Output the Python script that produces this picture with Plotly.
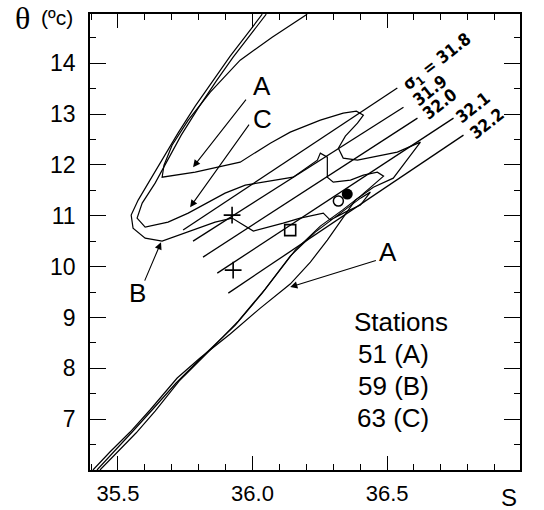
import plotly.graph_objects as go

# ---- Station 51 (A): salinity S and potential temperature theta ----
A_S = [35.407, 35.470, 35.545, 35.619, 35.720, 35.805, 35.917, 36.029, 36.140, 36.215,
       36.278, 36.345, 36.382, 36.449, 36.523, 36.568, 36.624, 36.538, 36.464, 36.390,
       36.337, 36.319, 36.345, 36.390, 36.412, 36.386, 36.337, 36.252, 36.140, 36.066,
       35.954, 35.787, 35.664, 35.671, 35.701, 35.761, 35.843, 35.954, 36.073, 36.203]
A_T = [6.000, 6.354, 6.747, 7.180, 7.809, 8.202, 8.674, 9.185, 9.657, 10.090,
       10.522, 11.014, 11.309, 11.564, 11.741, 12.056, 12.449, 12.253, 12.174, 12.095,
       12.135, 12.331, 12.567, 12.823, 12.980, 13.059, 13.019, 12.882, 12.646, 12.429,
       12.056, 11.859, 11.760, 11.996, 12.390, 12.882, 13.432, 14.061, 14.514, 14.966]

# ---- Station 59 (B) ----
B_S = [35.422, 35.485, 35.556, 35.630, 35.716, 35.824, 35.936, 36.036, 36.140, 36.233,
       36.326, 36.401, 36.438, 36.401, 36.345, 36.289, 36.263, 36.177, 36.114, 36.040,
       36.003, 35.954, 35.924, 35.861, 35.738, 35.664, 35.601, 35.556, 35.549, 35.575,
       35.619, 35.668, 35.723, 35.787, 35.854, 35.917, 35.977, 36.036]
B_T = [6.000, 6.354, 6.767, 7.200, 7.711, 8.281, 8.851, 9.480, 10.208, 10.680,
       11.053, 11.348, 11.466, 11.210, 11.073, 10.916, 11.053, 10.955, 10.857, 10.758,
       10.699, 10.857, 10.955, 10.876, 10.640, 10.502, 10.561, 10.758, 11.014, 11.309,
       11.702, 12.135, 12.626, 13.157, 13.668, 14.140, 14.553, 14.966]

# ---- Station 63 (C) ----
C_S = [35.433, 35.496, 35.567, 35.638, 35.727, 35.835, 35.947, 36.047, 36.159, 36.252,
       36.334, 36.401, 36.453, 36.487, 36.464, 36.412, 36.364, 36.300, 36.278, 36.278,
       36.252, 36.241, 36.151, 36.066, 35.973, 35.898, 35.761, 35.686, 35.649, 35.601,
       35.571, 35.590, 35.638, 35.683, 35.735, 35.798, 35.865, 35.928, 35.988, 36.051]
C_T = [6.000, 6.334, 6.727, 7.160, 7.750, 8.320, 8.930, 9.559, 10.326, 10.798,
       11.112, 11.387, 11.623, 11.780, 11.859, 11.800, 11.702, 11.662, 11.761, 12.154,
       12.233, 12.095, 11.761, 11.682, 11.604, 11.446, 11.053, 10.876, 10.837, 10.778,
       10.955, 11.250, 11.643, 12.095, 12.587, 13.118, 13.649, 14.120, 14.533, 14.966]

# ---- Isopycnals sigma_1 ----
sigma_labels = ["σ<sub>1</sub> = 31.8", "31.9", "32.0", "32.1", "32.2"]
iso_S0 = [35.742, 35.779, 35.816, 35.869, 35.910]
iso_T0 = [10.720, 10.503, 10.188, 9.873, 9.480]
iso_S1 = [36.538, 36.561, 36.613, 36.747, 36.784]
iso_T1 = [13.513, 13.137, 12.921, 12.921, 12.587]

# ---- Station position markers ----
cross_S = [35.924, 35.928]
cross_T = [11.014, 9.932]
square_S = [36.140]
square_T = [10.719]
ocirc_S = [36.319]
ocirc_T = [11.290]
fcirc_S = [36.352]
fcirc_T = [11.427]

x_ticks = [35.5, 36.0, 36.5]
x_ticklabels = ["35.5", "36.0", "36.5"]
y_ticks = [7, 8, 9, 10, 11, 12, 13, 14]
y_ticklabels = ["7", "8", "9", "10", "11", "12", "13", "14"]

SANS = "Liberation Sans, Arial, Helvetica, sans-serif"
NARROW = "Liberation Sans Narrow, DejaVu Sans Condensed, Arial Narrow, Liberation Sans, sans-serif"

fig = go.Figure()
for S, T in [(A_S, A_T), (B_S, B_T), (C_S, C_T)]:
    fig.add_trace(go.Scatter(x=S, y=T, mode="lines", line=dict(color="black", width=1.2),
                             hoverinfo="skip", showlegend=False))
for i in range(len(sigma_labels)):
    fig.add_trace(go.Scatter(x=[iso_S0[i], iso_S1[i]], y=[iso_T0[i], iso_T1[i]], mode="lines",
                             line=dict(color="black", width=1.3), hoverinfo="skip", showlegend=False))

fig.add_trace(go.Scatter(x=cross_S, y=cross_T, mode="markers", showlegend=False,
                         marker=dict(symbol="cross-thin", size=12, line=dict(width=1.6, color="black"))))
fig.add_trace(go.Scatter(x=square_S, y=square_T, mode="markers", showlegend=False,
                         marker=dict(symbol="square-open", size=11, color="black", line=dict(width=1.6))))
fig.add_trace(go.Scatter(x=ocirc_S, y=ocirc_T, mode="markers", showlegend=False,
                         marker=dict(symbol="circle-open", size=10, color="black", line=dict(width=1.5))))
fig.add_trace(go.Scatter(x=fcirc_S, y=fcirc_T, mode="markers", showlegend=False,
                         marker=dict(symbol="circle", size=11, color="black")))

ann = []
# isopycnal labels
lab_pos = [(36.687, 14.022), (36.661, 13.471), (36.695, 13.196), (36.821, 13.137), (36.873, 12.823)]
for txt, (sx, ty) in zip(sigma_labels, lab_pos):
    ann.append(dict(x=sx, y=ty, xref="x", yref="y", text="<b>" + txt + "</b>", showarrow=False,
                    textangle=-38, xanchor="center", yanchor="middle",
                    font=dict(family=NARROW, size=17, color="black")))

# arrows (tip, tail) and letter labels
arrows = [((35.779, 11.957), (35.980, 13.314)),
          ((35.768, 11.171), (35.991, 12.823)),
          ((35.660, 10.480), (35.597, 9.696)),
          ((36.140, 9.598), (36.464, 10.130))]
for (tx, ty), (axx, ayy) in arrows:
    ann.append(dict(x=tx, y=ty, ax=axx, ay=ayy, xref="x", yref="y", axref="x", ayref="y",
                    text="", showarrow=True, arrowhead=2, arrowsize=1.3, arrowwidth=1.1,
                    arrowcolor="black"))
letters = [("A", 36.036, 13.550), ("C", 36.036, 12.905), ("B", 35.571, 9.480), ("A", 36.503, 10.287)]
for t, sx, ty in letters:
    ann.append(dict(x=sx, y=ty, xref="x", yref="y", text=t, showarrow=False,
                    xanchor="center", yanchor="middle",
                    font=dict(family=SANS, size=26, color="black")))

# station legend text
for t, px, py in [("Stations", 0.7233, 0.3246), ("51 (A)", 0.7047, 0.2544),
                  ("59 (B)", 0.7047, 0.1842), ("63 (C)", 0.7047, 0.114)]:
    ann.append(dict(x=px, y=py, xref="paper", yref="paper", text=t, showarrow=False,
                    xanchor="center", yanchor="middle",
                    font=dict(family=SANS, size=26, color="black")))

# axis titles
ann.append(dict(x=-0.158, y=0.991, xref="paper", yref="paper", text="θ", showarrow=False,
                xanchor="center", yanchor="middle",
                font=dict(family="Liberation Serif, Times New Roman, serif", size=32, color="black")))
ann.append(dict(x=-0.0767, y=0.993, xref="paper", yref="paper", text="(ºc)", showarrow=False,
                xanchor="center", yanchor="middle",
                font=dict(family=SANS, size=21, color="black")))
ann.append(dict(x=0.974, y=-0.0614, xref="paper", yref="paper", text="S", showarrow=False,
                xanchor="center", yanchor="middle",
                font=dict(family=SANS, size=24, color="black")))

fig.update_layout(
    width=544, height=510,
    margin=dict(l=90, r=24, t=14, b=40, autoexpand=False),
    plot_bgcolor="white", paper_bgcolor="white",
    annotations=ann, showlegend=False,
    font=dict(family=SANS, color="black"),
)
fig.update_xaxes(range=[35.396, 36.994], tickvals=x_ticks, ticktext=x_ticklabels, automargin=False,
                 ticks="inside", ticklen=14, tickwidth=1.3, tickcolor="black",
                 showline=True, linewidth=1.5, linecolor="black", mirror="ticks",
                 showgrid=False, zeroline=False, tickfont=dict(size=22, family=SANS),
                 ticklabelstandoff=3,
                 minor=dict(dtick=0.1, tick0=35.0, ticks="inside", ticklen=6, tickwidth=1, tickcolor="black"))
fig.update_yaxes(range=[6.0, 14.97], tickvals=y_ticks, ticktext=y_ticklabels, automargin=False,
                 ticks="inside", ticklen=16, tickwidth=1.3, tickcolor="black",
                 showline=True, linewidth=1.5, linecolor="black", mirror="ticks",
                 showgrid=False, zeroline=False, tickfont=dict(size=23, family=SANS),
                 ticklabelstandoff=8,
                 minor=dict(dtick=0.5, tick0=6.0, ticks="inside", ticklen=6, tickwidth=1, tickcolor="black"))

fig.write_html("out.html")
